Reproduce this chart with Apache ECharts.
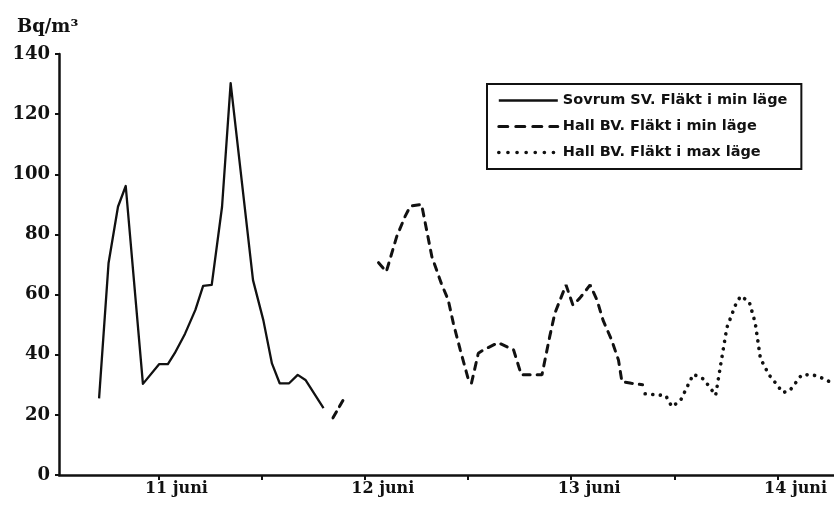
<!DOCTYPE html>
<html>
<head>
<meta charset="utf-8">
<script src="https://cdn.jsdelivr.net/npm/echarts@6/dist/echarts.min.js"></script>
<style>
  html, body { margin: 0; padding: 0; background: #fff; }
  #chart { width: 834px; height: 511px; }
</style>
</head>
<body>
<div id="chart"></div>
<script>
// Time in hours from 11 juni 00:00, radon concentration in Bq/m³
const solidHours  = [-6.9, -5.8, -4.7, -3.8, -1.8, 0.1, 1.1, 1.9, 3.1, 4.3, 5.2, 6.2, 7.4, 8.4, 11.0, 12.2, 13.2, 14.1, 15.2, 16.2, 17.1, 19.2];
const solidValues = [25.5, 70.4, 89.2, 96.1, 30.3, 36.9, 36.9, 40.5, 47.0, 54.9, 62.9, 63.2, 89.2, 130.3, 64.8, 51.5, 37.1, 30.5, 30.5, 33.3, 31.6, 22.2];

const dashStubHours  = [20.3, 21.7];
const dashStubValues = [19.0, 26.0];

const dashedHours  = [25.6, 26.5, 27.7, 28.7, 29.3, 30.6, 31.8, 32.9, 33.7, 34.3, 35.1, 36.0, 36.4, 37.2, 37.8, 39.5, 41.3, 42.2, 44.6, 45.5, 46.1, 47.4, 48.2, 49.0, 50.2, 51.0, 51.7, 52.7, 53.5, 53.9, 55.0, 56.3];
const dashedValues = [70.6, 67.6, 79.2, 86.1, 89.4, 90.0, 72.6, 63.7, 58.2, 50.4, 41.6, 32.2, 30.5, 40.5, 41.6, 44.0, 41.6, 33.3, 33.3, 46.0, 53.8, 63.2, 56.5, 58.8, 63.2, 58.2, 51.5, 44.9, 38.2, 31.0, 30.5, 30.0];

const dottedHours  = [56.6, 59.0, 59.7, 60.7, 62.2, 63.4, 64.8, 65.4, 66.1, 67.1, 67.7, 68.7, 69.4, 70.0, 71.0, 71.8, 72.6, 73.4, 74.8, 76.1, 77.6, 78.6];
const dottedValues = [27.0, 26.4, 22.7, 24.7, 33.5, 31.9, 26.5, 37.0, 49.0, 56.5, 59.5, 57.6, 50.6, 38.8, 33.3, 30.5, 27.4, 28.0, 33.3, 33.3, 31.8, 30.0];

const seriesNames = ['Sovrum SV. Fläkt i min läge', 'Hall BV. Fläkt i min läge', 'Hall BV. Fläkt i max läge'];
const yTicks = [0, 20, 40, 60, 80, 100, 120, 140];
const dayTicks = [0, 24, 48, 72];
const dayLabels = ['11 juni', '12 juni', '13 juni', '14 juni'];
const halfDayTicks = [0, 12, 24, 36, 48, 60, 72];

const pairs = (xs, ys) => xs.map((x, i) => [x, ys[i]]);

const ink = '#111';
const serif = '"DejaVu Serif", "Liberation Serif", serif';

const solidStyle  = { color: ink, width: 2.3, join: 'round' };
const dashedStyle = { color: ink, width: 3, type: [7, 7], cap: 'round' };
const dottedStyle = { color: ink, width: 3.6, type: [0.1, 7.5], cap: 'round' };

const chart = echarts.init(document.getElementById('chart'), null, { renderer: 'canvas' });

chart.setOption({
  animation: false,
  backgroundColor: '#fff',
  title: {
    text: 'Bq/m³',
    left: 12, top: 13,
    textStyle: { fontFamily: serif, fontWeight: 'bold', fontSize: 18, color: ink }
  },
  legend: {
    data: [
      { name: seriesNames[0], lineStyle: solidStyle },
      { name: seriesNames[1], lineStyle: { color: ink, width: 3, type: [9, 8], cap: 'round' } },
      { name: seriesNames[2], lineStyle: { color: ink, width: 3.6, type: [0.1, 9], cap: 'round' } }
    ],
    orient: 'vertical',
    left: 487, top: 84,
    padding: [9, 14, 9, 10],
    itemWidth: 59, itemHeight: 12, itemGap: 11,
    borderColor: ink, borderWidth: 2, borderRadius: 0,
    backgroundColor: '#fff',
    itemStyle: { opacity: 0, color: 'transparent', borderWidth: 0 },
    textStyle: { fontFamily: '"DejaVu Sans", "Liberation Sans", sans-serif', fontWeight: 'bold', fontSize: 14.5, color: ink }
  },
  grid: { left: 59, right: 0, top: 54, bottom: 36, containLabel: false },
  xAxis: {
    type: 'value',
    min: -11.56, max: 78.56,
    splitLine: { show: false },
    axisLine: { lineStyle: { color: ink, width: 2.5 } },
    axisTick: { show: true, customValues: halfDayTicks, length: 5, lineStyle: { color: ink, width: 2 } },
    axisLabel: {
      customValues: dayTicks,
      formatter: v => dayLabels[dayTicks.indexOf(v)] || '',
      fontFamily: serif, fontWeight: 'bold', fontSize: 16, color: ink,
      margin: 6,
      padding: [0, 0, 0, 36]
    }
  },
  yAxis: {
    type: 'value',
    min: 0, max: 140, interval: 20,
    splitLine: { show: false },
    axisLine: { show: true, onZero: false, lineStyle: { color: ink, width: 2.5 } },
    axisTick: { show: true, length: 4, lineStyle: { color: ink, width: 2 } },
    axisLabel: {
      customValues: yTicks,
      fontFamily: serif, fontWeight: 'bold', fontSize: 18, color: ink, margin: 9
    }
  },
  series: [
    {
      name: seriesNames[0], type: 'line', symbol: 'none',
      data: pairs(solidHours, solidValues),
      lineStyle: solidStyle,
      itemStyle: { color: ink }
    },
    {
      name: seriesNames[1], type: 'line', symbol: 'none',
      data: pairs(dashStubHours, dashStubValues),
      lineStyle: { color: ink, width: 3, type: [7, 6], cap: 'round' },
      itemStyle: { color: ink }
    },
    {
      name: seriesNames[1], type: 'line', symbol: 'none',
      data: pairs(dashedHours, dashedValues),
      lineStyle: dashedStyle,
      itemStyle: { color: ink }
    },
    {
      name: seriesNames[2], type: 'line', symbol: 'none',
      data: pairs(dottedHours, dottedValues),
      lineStyle: dottedStyle,
      itemStyle: { color: ink }
    }
  ]
});
</script>
</body>
</html>
